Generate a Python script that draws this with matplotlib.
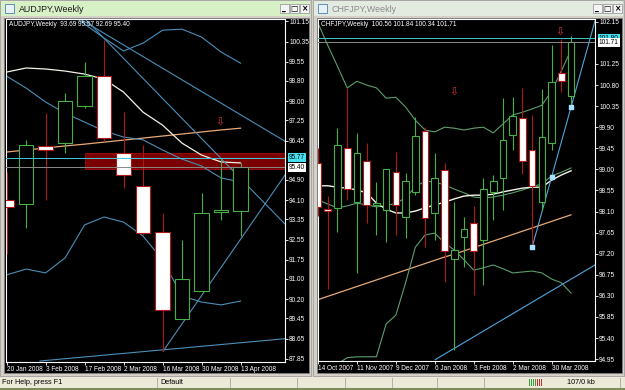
import matplotlib
matplotlib.use("Agg")
import matplotlib.pyplot as plt
from matplotlib.patches import Rectangle

plt.rcParams['font.family'] = ['Liberation Sans Narrow', 'Liberation Sans', 'DejaVu Sans']

W, H = 625, 390

# ---------------- DATA ---------------- #

# AUDJPY weekly, 20 Jan 2008 .. 13 Apr 2008
aud_dates = ["20 Jan 2008", "3 Feb 2008", "17 Feb 2008", "2 Mar 2008",
             "16 Mar 2008", "30 Mar 2008", "13 Apr 2008"]
aud_open = [94.11, 93.94, 96.24, 96.35, 97.81, 98.99, 95.96, 94.66, 92.85, 89.42, 90.53, 93.64, 93.69]
aud_high = [95.20, 96.47, 97.54, 98.32, 99.54, 100.41, 97.57, 96.27, 93.60, 92.54, 94.39, 95.76, 95.57]
aud_low = [92.00, 93.01, 94.11, 95.96, 97.73, 96.45, 94.58, 92.73, 88.17, 89.42, 90.53, 93.32, 92.69]
aud_close = [93.83, 96.27, 96.08, 98.01, 98.99, 96.55, 95.09, 92.81, 89.78, 91.00, 93.60, 93.72, 95.40]
aud_bb_up = [None, None, None, 101.59, 101.04, 100.49, 99.98, 100.29, 100.80, 100.84, 100.53, 99.94, 99.50]
aud_bb_mid = [98.99, 98.52, 97.97, 97.53, 97.18, 96.83, 96.59, 96.48, 96.08, 95.72, 95.45, 94.98, 94.82]
aud_bb_low = [91.16, 91.39, 91.24, 91.83, 93.13, 93.44, 93.24, 92.69, 91.75, 90.33, 90.09, 89.98, 90.13]
aud_ma_white = [99.15, 99.31, 99.27, 99.19, 99.07, 98.87, 98.36, 97.57, 97.06, 96.35, 95.88, 95.61, 95.57]
aud_ma_orange = [96.00, 96.08, 96.16, 96.24, 96.31, 96.39, 96.47, 96.55, 96.63, 96.71, 96.79, 96.87, 96.94]
aud_ticks = [87.85, 88.65, 89.45, 90.20, 91.00, 91.75, 92.55, 93.35, 94.10, 94.90,
             96.45, 97.25, 98.00, 98.80, 99.55, 100.35, 101.15]
# trendlines: (bar, price) anchor pairs
aud_trends = [((3.77, 101.24), (14.18, 96.47)),
              ((4.03, 101.24), (14.18, 93.24)),
              ((8.03, 88.16), (14.28, 95.09)),
              ((1.72, 87.77), (14.18, 88.64))]
aud_zone = (4.03, 95.33, 95.96)      # start bar, low, high
aud_ask, aud_bid = 95.77, 95.40
aud_arrow = (10.95, 97.18)
aud_header = "AUDJPY,Weekly  93.69 95.57 92.69 95.40"

# CHFJPY weekly, 14 Oct 2007 .. 13 Apr 2008
chf_dates = ["14 Oct 2007", "11 Nov 2007", "9 Dec 2007", "6 Jan 2008",
             "3 Feb 2008", "2 Mar 2008", "30 Mar 2008"]
chf_open = [99.14, 98.15, 98.18, 99.46, 98.30, 99.18, 98.24, 98.13, 98.94, 97.98, 98.52, 99.82, 98.07,
            98.99, 97.09, 97.56, 97.86, 97.49, 98.52, 98.82, 99.73, 100.10, 99.41, 98.30, 99.56, 101.05, 100.56]
chf_high = [99.45, 98.43, 99.88, 100.74, 99.78, 99.56, 98.73, 99.01, 99.37, 98.92, 100.12, 99.90, 99.35,
            99.14, 98.30, 97.98, 98.22, 98.82, 98.88, 100.52, 100.54, 100.74, 100.16, 100.71, 101.65, 101.78, 101.84]
chf_low = [98.00, 96.45, 97.66, 98.35, 96.79, 97.86, 97.60, 97.45, 97.60, 97.54, 98.45, 97.34, 97.49,
           96.60, 95.15, 96.92, 96.32, 96.53, 97.92, 98.13, 99.41, 98.90, 97.39, 98.13, 99.41, 100.65, 100.34]
chf_close = [98.20, 98.11, 99.52, 98.58, 99.35, 98.24, 98.28, 99.01, 98.24, 98.75, 99.71, 97.96, 98.82,
             97.26, 97.28, 97.73, 97.26, 98.58, 98.75, 99.63, 100.14, 99.18, 98.65, 99.69, 100.86, 100.88, 101.71]
chf_bb_up = [102.12, 101.65, 101.20, 100.74, 100.88, 100.80, 100.74, 100.52, 100.54, 100.33, 100.05, 99.84, 99.80,
             99.90, 99.88, 99.84, 99.88, 99.90, 99.78, 99.97, 100.16, 100.22, 100.29, 100.37, 100.67, 101.10, 101.55]
chf_bb_mid = [98.35, 98.26, 98.18, 98.22, 98.28, 98.24, 98.20, 98.22, 98.28, 98.39, 98.63, 98.75, 98.73,
              98.67, 98.58, 98.50, 98.41, 98.39, 98.41, 98.45, 98.50, 98.56, 98.63, 98.69, 98.86, 98.94, 99.03]
chf_bb_low = [94.40, 94.60, 94.85, 94.98, 95.00, 95.00, 95.00, 95.70, 95.89, 96.58, 97.34, 97.60, 97.64,
              97.43, 97.28, 97.07, 96.85, 96.90, 96.96, 96.88, 96.79, 96.81, 96.83, 96.79, 96.66, 96.58, 96.36]
chf_ma_white = [98.65, 98.65, 98.62, 98.60, 98.56, 98.50, 98.28, 98.15, 98.07, 98.07, 98.11, 98.18, 98.24,
                98.30, 98.37, 98.43, 98.45, 98.45, 98.47, 98.52, 98.56, 98.60, 98.62, 98.62, 98.77, 98.88, 98.97]
chf_ma_orange = [96.22, 96.29, 96.36, 96.43, 96.50, 96.57, 96.64, 96.71, 96.78, 96.85, 96.92, 96.99, 97.06,
                 97.13, 97.19, 97.26, 97.33, 97.40, 97.47, 97.54, 97.61, 97.68, 97.75, 97.82, 97.89, 97.96, 98.03]
chf_ticks = [94.95, 95.40, 95.85, 96.30, 96.75, 97.20, 97.65, 98.10, 98.55, 99.00,
             99.45, 99.90, 100.35, 100.80, 101.25, 102.15]
chf_trends = [((22.0, 97.34), (26.0, 100.33)),
              ((12.05, 94.94), (28.46, 96.96))]
chf_dots = [(22.0, 97.34), (24.0, 98.84), (26.0, 100.33)]
chf_ask, chf_bid = 101.80, 101.71
chf_arrows = [(14.0, 100.65), (24.87, 101.93)]
chf_header = "CHFJPY,Weekly  100.56 101.84 100.34 101.71"

BULL = "#46b046"
BEAR = "#b01818"
FS = 4.7


def rect(x0, y0, x1, y1):
    return [x0 / W, 1 - y1 / H, (x1 - x0) / W, (y1 - y0) / H]


def ray(ax, p0, p1, color, lw=0.8):
    (x0, y0), (x1, y1) = p0, p1
    k = (y1 - y0) / (x1 - x0)
    ax.plot([x0, 60], [y0, y0 + k * (60 - x0)], color=color, lw=lw, zorder=2)


def candles(ax, o, h, l, c, width):
    for i in range(len(o)):
        up = c[i] >= o[i]
        col = BULL if up else BEAR
        ax.vlines(i, l[i], h[i], color=col, lw=0.8, zorder=3)
        lo, hi = min(o[i], c[i]), max(o[i], c[i])
        ax.add_patch(Rectangle((i - width / 2, lo), width, max(hi - lo, 0.01),
                               facecolor="black" if up else "white",
                               edgecolor=col, lw=0.8, zorder=4))


def chart(box, xlim, ylim, ticks, dates, step, header):
    ax = fig.add_axes(rect(*box))
    ax.set_facecolor("black")
    ax.set_xlim(*xlim)
    ax.set_ylim(*ylim)
    for s in ax.spines.values():
        s.set_color("white")
        s.set_linewidth(0.8)
    ax.yaxis.tick_right()
    ax.set_yticks(ticks)
    ax.set_yticklabels(["%.2f" % t for t in ticks])
    ax.set_xticks(range(0, step * len(dates), step))
    ax.set_xticklabels(dates, ha="left")
    ax.tick_params(colors="white", labelsize=FS, length=2, width=0.6, pad=1)
    ax.text(0.01, 0.995, header, transform=ax.transAxes, color="white",
            fontsize=FS, va="top", ha="left")
    return ax


def price_box(ax, y, bg):
    ax.text(1.014, y, "%.2f" % y, transform=ax.get_yaxis_transform(), fontsize=FS,
            color="black", va="center", ha="left", clip_on=False, zorder=10,
            bbox=dict(facecolor=bg, edgecolor="none", pad=0.8))


fig = plt.figure(figsize=(6.25, 3.9), dpi=100)
fig.patch.set_facecolor("#d4d0c8")

# ---------------- WINDOW CHROME ---------------- #
bg = fig.add_axes([0, 0, 1, 1])
bg.set_xlim(0, W)
bg.set_ylim(H, 0)
bg.axis("off")

for x0, x1, bar, tcol, name in [(0, 311, "#d8f0c6", "#1a1a1a", "AUDJPY,Weekly"),
                                 (313, 624, "#e3ebe0", "#8c8c8c", "CHFJPY,Weekly")]:
    bg.add_patch(Rectangle((x0, 0), x1 - x0, 376, facecolor="#d4d0c8", edgecolor="#a0a0a0", lw=0.6))
    bg.add_patch(Rectangle((x0 + 1, 1), x1 - x0 - 2, 15, facecolor=bar, edgecolor="none"))
    bg.add_patch(Rectangle((x0 + 5, 4), 9, 9, facecolor="#e8f0f8", edgecolor="#5080b0", lw=0.6))
    bg.text(x0 + 19, 9, name, fontsize=6.4, color=tcol, va="center", ha="left")
    for bx, sym in [(x1 - 31, "_"), (x1 - 21, "□"), (x1 - 11, "×")]:
        bg.add_patch(Rectangle((bx, 4), 8.5, 9, facecolor="#f4f4f4", edgecolor="#909090", lw=0.5))
        bg.text(bx + 4.2, 8.6, sym, fontsize=5.5, color="black", va="center", ha="center",
                family="DejaVu Sans", weight="bold")
    bg.add_patch(Rectangle((x0 + 4, 18), x1 - x0 - 6, 355, facecolor="black", edgecolor="#808080", lw=0.6))

# status bar
bg.add_patch(Rectangle((0, 377), W, 11, facecolor="#ece9d8", edgecolor="none"))
bg.add_patch(Rectangle((0, 388), W, 2, facecolor="#7d8c5c", edgecolor="none"))
for sx in [157, 230, 297, 345, 392, 437, 484, 620]:
    bg.plot([sx, sx], [378, 387], color="#a8a6a0", lw=0.6)
bg.text(2, 382.5, "For Help, press F1", fontsize=5.2, va="center", ha="left", color="black")
bg.text(160, 382.5, "Default", fontsize=5.2, va="center", ha="left", color="black")
bg.text(567, 382.5, "107/0 kb", fontsize=5.2, va="center", ha="left", color="black")
for k in range(7):
    bg.add_patch(Rectangle((529 + 2 * k, 379), 1.2, 7, facecolor="#3c9c3c" if k < 4 else "#c03030",
                           edgecolor="none"))

# ---------------- AUDJPY ---------------- #
ax1 = chart((6, 19, 285, 362), (-0.03, 14.28), (87.73, 101.24), aud_ticks, aud_dates, 2, aud_header)
n1 = range(len(aud_open))
ax1.add_patch(Rectangle((aud_zone[0], aud_zone[1]), 30, aud_zone[2] - aud_zone[1],
                        facecolor="#7a0000", edgecolor="#a01010", lw=0.6, zorder=1))
ax1.plot(n1, aud_ma_orange, color="#e8a878", lw=0.9, zorder=2)
ax1.plot(n1, aud_ma_white, color="#f2f2e6", lw=0.9, zorder=2)
for band in (aud_bb_up, aud_bb_mid, aud_bb_low):
    ax1.plot(n1, [float("nan") if v is None else v for v in band], color="#4b8fb8", lw=0.8, zorder=2)
for p0, p1 in aud_trends:
    ray(ax1, p0, p1, "#4b8fb8")
ax1.axhline(aud_ask, color="#40c8d8", lw=0.7, zorder=5)
ax1.axhline(aud_bid, color="#8a8a8a", lw=0.7, zorder=5)
candles(ax1, aud_open, aud_high, aud_low, aud_close, 0.74)
ax1.text(*aud_arrow, "⇩", color="#d03030", fontsize=8, ha="center", va="center",
         family="DejaVu Sans", zorder=6)
price_box(ax1, aud_ask, "#48e0f0")
price_box(ax1, aud_bid, "white")

# ---------------- CHFJPY ---------------- #
ax2 = chart((318, 19, 595, 361), (0.05, 28.46), (94.91, 102.21), chf_ticks, chf_dates, 4, chf_header)
n2 = range(len(chf_open))
ax2.plot(n2, chf_ma_orange, color="#e8a878", lw=0.9, zorder=2)
for band in (chf_bb_up, chf_bb_mid, chf_bb_low):
    ax2.plot(n2, band, color="#5b9e6e", lw=0.8, zorder=2)
ax2.plot(n2, chf_ma_white, color="#f2f2e6", lw=1.0, zorder=2)
for p0, p1 in chf_trends:
    ray(ax2, p0, p1, "#4fa6dc")
ax2.scatter(*zip(*chf_dots), marker="s", s=5, color="#a8e0ff", zorder=6)
ax2.axhline(chf_ask, color="#40c8c0", lw=0.7, zorder=5)
ax2.axhline(chf_bid, color="#8a8a8a", lw=0.7, zorder=5)
candles(ax2, chf_open, chf_high, chf_low, chf_close, 0.68)
for a in chf_arrows:
    ax2.text(*a, "⇩", color="#d03030", fontsize=8, ha="center", va="center",
             family="DejaVu Sans", zorder=6)
price_box(ax2, chf_ask, "#48e0f0")
price_box(ax2, chf_bid, "white")

fig.savefig("out.png", dpi=100, facecolor=fig.get_facecolor())
